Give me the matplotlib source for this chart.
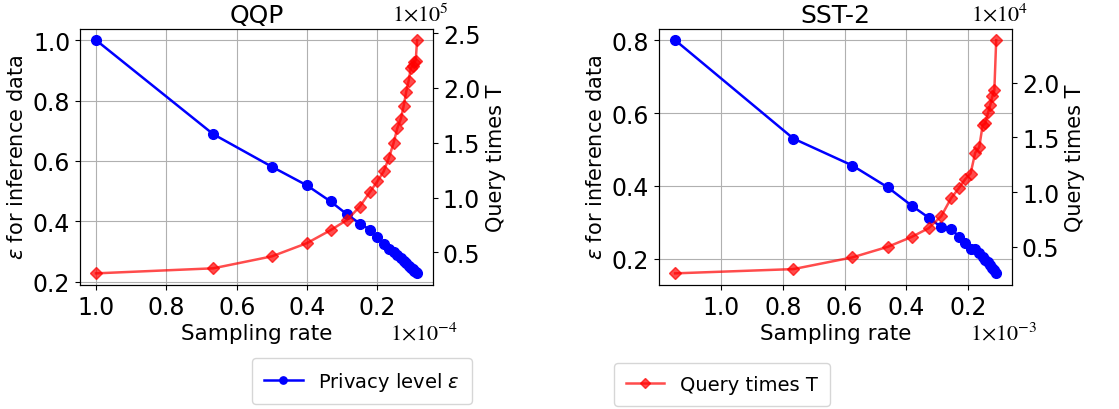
import numpy as np
import matplotlib.pyplot as plt

# QQP: sampling rate (x1e-4), privacy level, query times (x1e5)
qqp_rate = [1.0, 0.667, 0.5, 0.4, 0.333, 0.286, 0.25, 0.222, 0.2, 0.182, 0.167,
            0.154, 0.143, 0.133, 0.125, 0.118, 0.111, 0.105, 0.1, 0.095, 0.091, 0.087]
qqp_eps = [1.0, 0.689, 0.581, 0.519, 0.466, 0.423, 0.393, 0.373, 0.348, 0.325, 0.308,
           0.298, 0.288, 0.278, 0.269, 0.261, 0.254, 0.247, 0.241, 0.236, 0.231, 0.228]
qqp_T = [0.309, 0.355, 0.464, 0.585, 0.703, 0.797, 0.918, 1.048, 1.148, 1.239, 1.364,
         1.497, 1.636, 1.721, 1.839, 1.966, 2.066, 2.18, 2.20, 2.24, 2.25, 2.436]

# SST-2: sampling rate (x1e-3), privacy level, query times (x1e4)
sst_rate = [1.149, 0.766, 0.575, 0.46, 0.383, 0.328, 0.287, 0.255, 0.23, 0.209,
            0.192, 0.177, 0.164, 0.153, 0.144, 0.135, 0.128, 0.121, 0.115, 0.109]
sst_eps = [0.80, 0.53, 0.456, 0.396, 0.346, 0.313, 0.287, 0.283, 0.260, 0.242,
           0.228, 0.226, 0.215, 0.205, 0.198, 0.19, 0.182, 0.175, 0.168, 0.16]
sst_T = [0.257, 0.296, 0.403, 0.50, 0.59, 0.67, 0.78, 0.945, 1.036, 1.12,
         1.17, 1.36, 1.41, 1.61, 1.63, 1.73, 1.80, 1.88, 1.93, 2.39]

panels = [
    ('QQP', qqp_rate, qqp_eps, qqp_T, r'$1{\times}10^{5}$', r'$1{\times}10^{-4}$', 0.0715),
    ('SST-2', sst_rate, sst_eps, sst_T, r'$1{\times}10^{4}$', r'$1{\times}10^{-3}$', 0.589),
]

fig = plt.figure(figsize=(11.19, 4.10), dpi=100)

for title, rate, eps, T, top_off, bot_off, left in panels:
    ax = fig.add_axes([left, 0.3024, 0.3156, 0.6256])
    l1, = ax.plot(rate, eps, color='blue', marker='o', markersize=7, lw=1.8,
                  label=r'Privacy level $\varepsilon$')
    ax.grid(True, color='#b0b0b0', lw=0.8)
    ax.invert_xaxis()
    ax.set_xticks([1.0, 0.8, 0.6, 0.4, 0.2])
    ax.set_title(title, fontsize=18, pad=5)
    ax.set_xlabel('Sampling rate', fontsize=15.5, labelpad=3)
    ax.set_ylabel(r'$\varepsilon$ for inference data', fontsize=15)
    ax.tick_params(labelsize=17)

    ax2 = ax.twinx()
    l2, = ax2.plot(rate, T, color='red', alpha=0.7, marker='D', markersize=6.5, lw=1.8,
                   label='Query times T')
    ax2.set_ylabel('Query times T', fontsize=15)
    ax2.tick_params(labelsize=17)

    ax.text(0.965, 1.058, top_off, transform=ax.transAxes, ha='center', va='center',
            fontsize=16, math_fontfamily='stix')
    ax.text(0.975, -0.185, bot_off, transform=ax.transAxes, ha='center', va='center',
            fontsize=16, math_fontfamily='stix')

fig.legend(handles=[l1], loc='center', bbox_to_anchor=(0.3235, 0.068), fontsize=14,
           markerscale=0.75, borderpad=0.6)
fig.legend(handles=[l2], loc='center', bbox_to_anchor=(0.645, 0.06), fontsize=14,
           markerscale=0.75, borderpad=0.6)

fig.savefig('out.png', dpi=100)
